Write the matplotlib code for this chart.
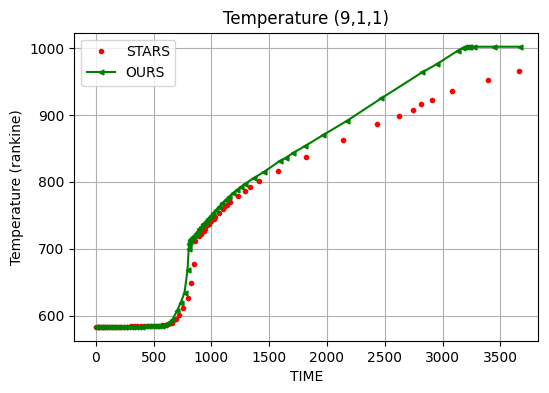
import matplotlib
matplotlib.use("Agg")
import matplotlib.pyplot as plt

# STARS data (time, temperature)
stars_time = [0, 15, 30, 50, 70, 90, 110, 135, 160, 185, 210, 240, 270, 300, 330,
              360, 390, 420, 450, 480, 510, 540, 570, 600, 628, 660, 694, 723, 758,
              796, 822, 845, 859, 894, 911, 932, 946, 961, 975, 998, 1018, 1033,
              1062, 1100, 1114, 1134, 1163, 1230, 1288, 1337, 1415, 1574, 1817,
              2138, 2431, 2624, 2746, 2816, 2908, 3082, 3394, 3659]
stars_temp = [583.5, 584, 584, 584, 584, 584, 584, 584, 584, 584, 584,
              584, 584.1, 584.3, 585, 585.1, 585.2, 585.3, 585.4, 585.5, 585.5,
              585.6, 585.8, 586, 587.5, 590, 595, 601.5, 611.5, 626.5, 649, 677.5,
              712, 720, 722.5, 727.5, 730, 736, 737.5, 741.5, 745, 747.5, 753, 760,
              763.5, 766, 770, 778.5, 786, 792, 801, 816, 837, 863, 886, 899, 907,
              916, 923, 936, 952, 965]

# OURS data (time, temperature)
ours_time = [0, 10, 25, 40, 60, 80, 100, 120, 140, 160, 180, 200, 225, 250, 275,
             300, 325, 350, 375, 400, 425, 450, 475, 500, 525, 550, 575, 600, 628,
             660, 700, 735, 767, 793, 803, 807, 812, 818, 825, 833, 842, 852, 865,
             880, 896, 912, 930, 950, 970, 992, 1015, 1040, 1066, 1093, 1122, 1152,
             1185, 1220, 1256, 1293, 1372, 1458, 1597, 1643, 1707, 1814, 1965, 2170,
             2471, 2826, 2951, 3131, 3174, 3195, 3210, 3225, 3240, 3275, 3449, 3668]
ours_temp = [584, 584, 584, 584, 584, 584, 584, 584, 584, 584, 584, 584, 584, 584,
             584, 584, 584, 584, 584.1, 584.2, 584.3, 584.4, 584.5, 584.6, 584.8,
             585, 585.5, 586.5, 589, 594, 607, 620, 635, 668, 700, 708, 711, 713,
             714.5, 716, 718, 720, 723, 726, 729.5, 733, 737, 741, 745, 749, 753,
             758, 763, 768, 773, 778, 783, 788, 793, 797.5, 806.5, 815.5, 832, 836,
             843.5, 854, 870, 891, 925, 964, 976, 996, 1000, 1001, 1001.5, 1002,
             1002, 1002, 1002, 1002]

fig = plt.figure(figsize=(5.49, 3.93), dpi=100)
ax = fig.add_axes([0.1353, 0.1323, 0.8452, 0.7845])

ax.plot(stars_time, stars_temp, 'r.', label='STARS')
ax.plot(ours_time, ours_temp, 'g-<', markersize=3.5, label='OURS')

ax.set_title('Temperature (9,1,1)')
ax.set_xlabel('TIME')
ax.set_ylabel('Temperature (rankine)')
ax.set_xlim(-187, 3829)
ax.grid(True)
ax.legend(loc='upper left')

fig.savefig('out.png', dpi=100)
